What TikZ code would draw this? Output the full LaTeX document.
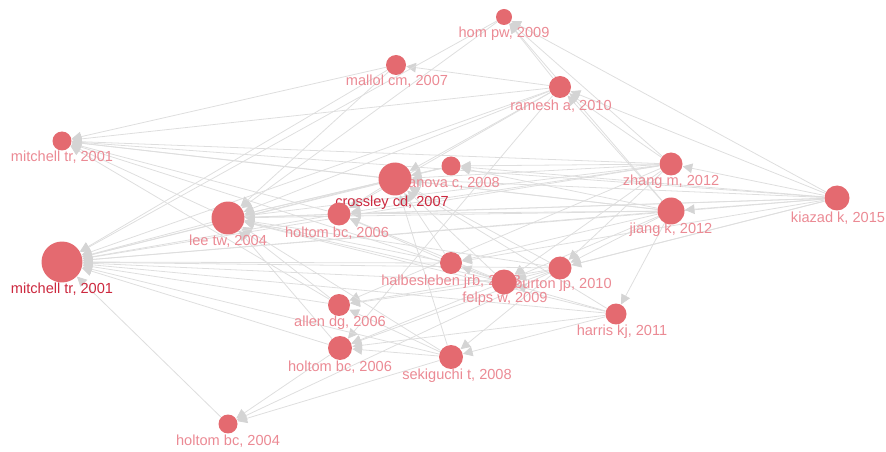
\documentclass[tikz,border=0pt]{standalone}
\usepackage{fontspec}
\setmainfont{Liberation Sans}
\usetikzlibrary{arrows.meta,backgrounds}
\usepackage{xcolor}

\definecolor{paperred}{RGB}{228,106,112}
\definecolor{labelpink}{RGB}{235,138,148}
\definecolor{labeldark}{RGB}{204,40,62}
\definecolor{linkgray}{RGB}{222,222,222}
\definecolor{tipgray}{RGB}{212,212,212}

\begin{document}
\begin{tikzpicture}[x=0.02cm,y=-0.02cm,
    paper/.style={circle,fill=paperred,inner sep=0pt,minimum size=#1},
    lbl/.style={font=\fontsize{8.3}{10}\selectfont,text=labelpink,inner sep=0pt},
    lbldark/.style={lbl,text=labeldark},
    link/.style={draw=linkgray,line width=0.45pt,-{Triangle[length=5.5pt,width=5.5pt,color=tipgray]}}
  ]
    \useasboundingbox (0,0) rectangle (886,452);

    % Labels (under the circles)
    \node[lbldark] (mitA-l) at (62,289) {mitchell tr, 2001};
    \node[lbl] (mitB-l) at (62,157) {mitchell tr, 2001};
    \node[lbl] (lee-l) at (228,241) {lee tw, 2004};
    \node[lbl] (holA-l) at (337,233) {holtom bc, 2006};
    \node[lbldark] (cros-l) at (392,203) {crossley cd, 2007};
    \node[lbl] (tan-l) at (452,183) {tanova c, 2008};
    \node[lbl] (mal-l) at (397,81) {mallol cm, 2007};
    \node[lbl] (hom-l) at (504,34) {hom pw, 2009};
    \node[lbl] (ram-l) at (561,106) {ramesh a, 2010};
    \node[lbl] (zha-l) at (671,182) {zhang m, 2012};
    \node[lbl] (jia-l) at (671,230) {jiang k, 2012};
    \node[lbl] (kia-l) at (838,218) {kiazad k, 2015};
    \node[lbl] (hal-l) at (451,282) {halbesleben jrb, 2008};
    \node[lbl] (bur-l) at (563,285) {burton jp, 2010};
    \node[lbl] (fel-l) at (505,299) {felps w, 2009};
    \node[lbl] (har-l) at (622,332) {harris kj, 2011};
    \node[lbl] (all-l) at (340,323) {allen dg, 2006};
    \node[lbl] (holB-l) at (340,367) {holtom bc, 2006};
    \node[lbl] (sek-l) at (457,376) {sekiguchi t, 2008};
    \node[lbl] (hol04-l) at (228,441) {holtom bc, 2004};

    % Papers
    \node[paper=0.82cm] (mitA) at (62,262) {};
    \node[paper=0.38cm] (mitB) at (62,141) {};
    \node[paper=0.66cm] (lee) at (228,218) {};
    \node[paper=0.46cm] (holA) at (339,214) {};
    \node[paper=0.66cm] (cros) at (395,179) {};
    \node[paper=0.38cm] (tan) at (451,166) {};
    \node[paper=0.40cm] (mal) at (396,65) {};
    \node[paper=0.32cm] (hom) at (504,17) {};
    \node[paper=0.44cm] (ram) at (560,87) {};
    \node[paper=0.46cm] (zha) at (671,164) {};
    \node[paper=0.54cm] (jia) at (671,211) {};
    \node[paper=0.50cm] (kia) at (837,198) {};
    \node[paper=0.44cm] (hal) at (451,263) {};
    \node[paper=0.50cm] (fel) at (504,282) {};
    \node[paper=0.46cm] (bur) at (560,268) {};
    \node[paper=0.42cm] (har) at (616,314) {};
    \node[paper=0.44cm] (all) at (339,305) {};
    \node[paper=0.48cm] (holB) at (340,348) {};
    \node[paper=0.48cm] (sek) at (451,357) {};
    \node[paper=0.38cm] (hol04) at (228,424) {};

    % Citation links (citing -> cited)
    \begin{scope}[on background layer]
    \draw[link] (kia) -- (mitA); \draw[link] (kia) -- (mitB); \draw[link] (kia) -- (lee); \draw[link] (kia) -- (holA);
    \draw[link] (kia) -- (cros); \draw[link] (kia) -- (tan); \draw[link] (kia) -- (zha); \draw[link] (kia) -- (jia);
    \draw[link] (kia) -- (ram); \draw[link] (kia) -- (hom); \draw[link] (kia) -- (hal); \draw[link] (kia) -- (fel);
    \draw[link] (kia) -- (bur);
    \draw[link] (jia) -- (mitA); \draw[link] (jia) -- (mitB); \draw[link] (jia) -- (lee); \draw[link] (jia) -- (holA);
    \draw[link] (jia) -- (cros); \draw[link] (jia) -- (tan); \draw[link] (jia) -- (ram); \draw[link] (jia) -- (har);
    \draw[link] (jia) -- (hal); \draw[link] (jia) -- (fel); \draw[link] (jia) -- (bur); \draw[link] (jia) -- (hom);
    \draw[link] (zha) -- (mitA); \draw[link] (zha) -- (mitB); \draw[link] (zha) -- (lee); \draw[link] (zha) -- (holA);
    \draw[link] (zha) -- (cros); \draw[link] (zha) -- (tan); \draw[link] (zha) -- (ram); \draw[link] (zha) -- (hom);
    \draw[link] (zha) -- (fel); \draw[link] (zha) -- (bur); \draw[link] (zha) -- (all);
    \draw[link] (ram) -- (mitA); \draw[link] (ram) -- (mitB); \draw[link] (ram) -- (lee); \draw[link] (ram) -- (mal);
    \draw[link] (ram) -- (cros); \draw[link] (ram) -- (hom); \draw[link] (ram) -- (holA); \draw[link] (ram) -- (holB);
    \draw[link] (hom) -- (mitA); \draw[link] (hom) -- (lee);
    \draw[link] (mal) -- (mitA); \draw[link] (mal) -- (lee); \draw[link] (mal) -- (mitB);
    \draw[link] (fel) -- (mitA); \draw[link] (fel) -- (mitB); \draw[link] (fel) -- (lee); \draw[link] (fel) -- (holA);
    \draw[link] (fel) -- (cros); \draw[link] (fel) -- (holB); \draw[link] (fel) -- (all); \draw[link] (fel) -- (hal);
    \draw[link] (bur) -- (mitA); \draw[link] (bur) -- (lee); \draw[link] (bur) -- (cros); \draw[link] (bur) -- (holB);
    \draw[link] (bur) -- (all); \draw[link] (bur) -- (sek); \draw[link] (bur) -- (hol04);
    \draw[link] (hal) -- (mitA); \draw[link] (hal) -- (lee); \draw[link] (hal) -- (holA); \draw[link] (hal) -- (cros);
    \draw[link] (har) -- (mitA); \draw[link] (har) -- (lee); \draw[link] (har) -- (cros); \draw[link] (har) -- (holB);
    \draw[link] (har) -- (sek); \draw[link] (har) -- (fel);
    \draw[link] (sek) -- (mitA); \draw[link] (sek) -- (lee); \draw[link] (sek) -- (holB); \draw[link] (sek) -- (all);
    \draw[link] (sek) -- (hol04); \draw[link] (sek) -- (cros);
    \draw[link] (all) -- (mitA); \draw[link] (all) -- (lee); \draw[link] (all) -- (mitB);
    \draw[link] (holB) -- (mitA); \draw[link] (holB) -- (lee); \draw[link] (holB) -- (hol04);
    \draw[link] (holA) -- (mitA); \draw[link] (holA) -- (lee); \draw[link] (holA) -- (mitB);
    \draw[link] (cros) -- (mitA); \draw[link] (cros) -- (lee); \draw[link] (cros) -- (mitB); \draw[link] (cros) -- (holA);
    \draw[link] (tan) -- (mitA); \draw[link] (tan) -- (lee); \draw[link] (tan) -- (cros);
    \draw[link] (lee) -- (mitA); \draw[link] (lee) -- (mitB);
    \draw[link] (hol04) -- (mitA);
    \end{scope}
  \end{tikzpicture}
\end{document}
